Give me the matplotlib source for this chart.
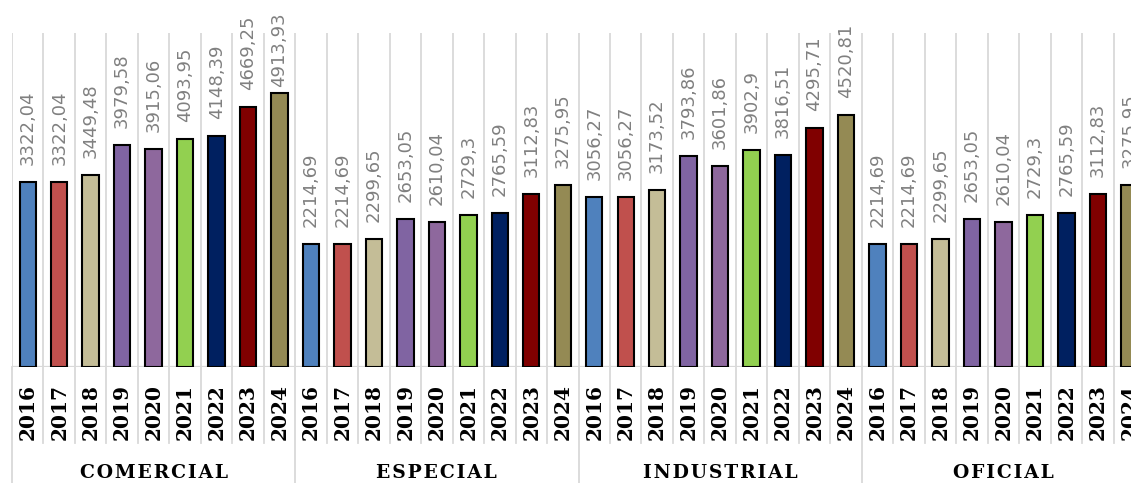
import matplotlib
matplotlib.use("Agg")
import matplotlib.pyplot as plt
import matplotlib.transforms as mtransforms
import numpy as np

# Tariff values per sector and year
sectors = ["COMERCIAL", "ESPECIAL", "INDUSTRIAL", "OFICIAL"]
years = ["2016", "2017", "2018", "2019", "2020", "2021", "2022", "2023", "2024"]
comercial = [3322.04, 3322.04, 3449.48, 3979.58, 3915.06, 4093.95, 4148.39, 4669.25, 4913.93]
especial = [2214.69, 2214.69, 2299.65, 2653.05, 2610.04, 2729.3, 2765.59, 3112.83, 3275.95]
industrial = [3056.27, 3056.27, 3173.52, 3793.86, 3601.86, 3902.9, 3816.51, 4295.71, 4520.81]
oficial = [2214.69, 2214.69, 2299.65, 2653.05, 2610.04, 2729.3, 2765.59, 3112.83, 3275.95]

year_colors = ["#4F81BD", "#C0504D", "#C4BD97", "#8064A2", "#8E689D",
               "#92D050", "#002060", "#800000", "#948A54"]

series = [comercial, especial, industrial, oficial]
n_y = len(years)
n_s = len(sectors)

W, H = 1131, 483
fig = plt.figure(figsize=(W / 100, H / 100), dpi=100)
left_px, right_px, top_px, base_px = 12, 1145, 33, 367
ax = fig.add_axes([left_px / W, (H - base_px) / H,
                   (right_px - left_px) / W, (base_px - top_px) / H])

ymax = 6000
ax.set_xlim(0, n_s * n_y)
ax.set_ylim(0, ymax)

grid_c = "#D9D9D9"
# vertical grid between every bar slot
for k in range(n_s * n_y + 1):
    ax.axvline(k, color=grid_c, lw=1.3, zorder=0)
ax.axhline(0, color=grid_c, lw=1.6, zorder=1)

px_per_unit = (base_px - top_px) / ymax
pad = 17 / px_per_unit
cap = 5030

for g, vals in enumerate(series):
    x = g * n_y + np.arange(n_y) + 0.5
    vals = np.asarray(vals)
    ax.bar(x, vals, width=0.52, color=year_colors, edgecolor="black",
           linewidth=1.5, zorder=3)
    for xi, v in zip(x, vals):
        ax.text(xi, min(v + pad, cap), f"{v:g}".replace(".", ","),
                rotation=90, ha="center", va="bottom", color="#808080",
                fontsize=13, family="DejaVu Sans",
                clip_on=False, zorder=4)

ax.set_xticks([])
ax.set_yticks([])
for s in ax.spines.values():
    s.set_visible(False)

trans = mtransforms.blended_transform_factory(ax.transData, ax.transAxes)
frac = 1 / (base_px - top_px)
year_bottom = -(443 - base_px) * frac
full_bottom = -(H - base_px + 5) * frac

# category axis separators below the baseline
for k in range(n_s * n_y + 1):
    bottom = full_bottom if k % n_y == 0 else year_bottom
    ax.plot([k, k], [0, bottom], color=grid_c, lw=1.3, transform=trans,
            clip_on=False, zorder=0)

for g in range(n_s):
    for i, yr in enumerate(years):
        ax.text(g * n_y + i + 0.5, -(412.5 - base_px) * frac, yr,
                rotation=90, ha="center", va="center", transform=trans,
                family="DejaVu Serif", fontweight="bold", fontsize=14.5,
                color="black", clip_on=False)
    ax.text(g * n_y + n_y / 2, -(472.5 - base_px) * frac,
            "\u200a".join(sectors[g]), ha="center", va="center",
            transform=trans, family="DejaVu Serif", fontweight="bold",
            fontsize=13.5, color="black", clip_on=False)

fig.savefig("out.png", dpi=100)
